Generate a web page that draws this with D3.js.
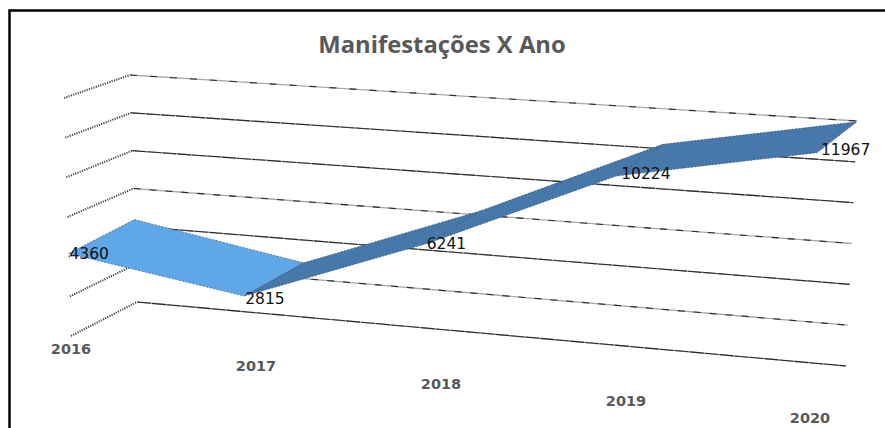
<!DOCTYPE html>
<html><head><meta charset="utf-8"><style>html,body{margin:0;padding:0;background:#fff}svg{display:block}</style>
<script src="https://cdnjs.cloudflare.com/ajax/libs/d3/7.8.5/d3.min.js"></script></head><body><div id="c"></div>
<script>
const title = "Manifestações X Ano";
const years = [2016, 2017, 2018, 2019, 2020];
const values = [4360, 2815, 6241, 10224, 11967];
const levels = [0, 2000, 4000, 6000, 8000, 10000, 12000];

const W = 885, H = 428;
const svg = d3.select("#c").append("svg").attr("width", W).attr("height", H);
svg.append("rect").attr("width", W).attr("height", H).attr("fill", "#fff");

// wall geometry: one linear scale per wall edge, driven by the value axis
const dom = [0, 12000];
const cornerX = d3.scaleLinear(dom, [137, 130]), cornerY = d3.scaleLinear(dom, [302, 75]);
const endX = d3.scaleLinear(dom, [846, 857]), endY = d3.scaleLinear(dom, [366, 121]);
const frontX = d3.scaleLinear(dom, [71, 64]), frontY = d3.scaleLinear(dom, [336, 98]);
const along = d3.scaleLinear(years, [0, 0.236, 0.485, 0.734, 1]);
const depthX = d3.scaleLinear([2016, 2020], [-66, -40]);
const depthY = d3.scaleLinear([2016, 2020], [34, 31]);

const back = (yr, v) => {
  const u = along(yr);
  return [cornerX(v) + (endX(v) - cornerX(v)) * u, cornerY(v) + (endY(v) - cornerY(v)) * u];
};
const front = (yr, v) => {
  const b = back(yr, v);
  return [b[0] + depthX(yr), b[1] + depthY(yr)];
};

// gridlines: a grey line with dark dashes on top, as in the aliased original
const g = svg.append("g").attr("fill", "none");
const dashes = ["14 1", "7 9", "14 1", "7 9", "14 1", "14 1", "7 13"];
levels.forEach((v, i) => {
  const pts = [[frontX(v), frontY(v)], [cornerX(v), cornerY(v)], [endX(v), endY(v)]];
  const line = d3.line();
  g.append("path").attr("d", line(pts.slice(1))).attr("stroke", "#a8a8a8").attr("stroke-width", 1.3);
  g.append("path").attr("d", line(pts.slice(1))).attr("stroke", "#2a2a2a").attr("stroke-width", 1.1)
    .attr("stroke-dasharray", dashes[i]);
  g.append("path").attr("d", line(pts.slice(0, 2))).attr("stroke", "#444").attr("stroke-width", 2)
    .attr("stroke-dasharray", "1.2 1.2");
});

// ribbon
const rib = svg.append("g");
d3.pairs(d3.zip(years, values)).forEach(([a, b]) => {
  const quad = [back(a[0], a[1]), back(b[0], b[1]), front(b[0], b[1]), front(a[0], a[1])];
  rib.append("path").attr("d", d3.line()(quad) + "Z")
    .attr("fill", b[1] < a[1] ? "#60a7e8" : "#4678a9")
    .attr("stroke", "#1f3550").attr("stroke-width", 0.5).attr("stroke-dasharray", "2 1.5");
});

// value labels
const labelFont = "'DejaVu Sans',sans-serif";
const labelDy = d3.scaleLinear(years, [0, 2, 1, -2, -3]);
const labelDx = d3.scaleLinear(years, [0, 0, -3, 4, 3]);
d3.zip(years, values).forEach(([yr, v]) => {
  const p = front(yr, v);
  svg.append("text").attr("x", p[0] + 1 + labelDx(yr)).attr("y", p[1] + labelDy(yr))
    .attr("dy", "0.35em").attr("font-family", labelFont).attr("font-size", 15.5).attr("fill", "#111").text(v);
});

// category labels
const catX = d3.scaleLinear(years, [71, 256, 441, 626, 810]);
const catY = d3.scaleLinear([2016, 2020], [349, 418]);
years.forEach(yr => {
  svg.append("text").attr("x", catX(yr)).attr("y", catY(yr)).attr("text-anchor", "middle").attr("dy", "0.35em")
    .attr("font-family", labelFont).attr("font-weight", 700).attr("font-size", 14.5).attr("fill", "#595959").text(yr);
});

svg.append("text").attr("x", 442).attr("y", 45).attr("text-anchor", "middle").attr("dy", "0.35em")
  .attr("font-family", "'Open Sans','Noto Sans',sans-serif").attr("font-weight", 700).attr("font-size", 23.8).attr("fill", "#595959").text(title);

// frame
svg.append("path").attr("d", `M9.5 ${H}V10.5H${W}`).attr("fill", "none").attr("stroke", "#000").attr("stroke-width", 2.5);
</script></body></html>
